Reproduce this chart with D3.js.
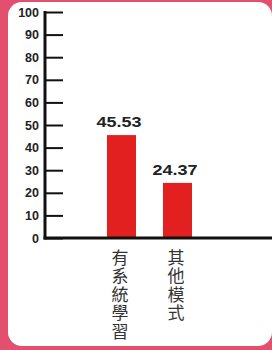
<!DOCTYPE html>
<html><head><meta charset="utf-8">
<script src="https://cdn.jsdelivr.net/npm/d3@7"></script>
<style>html,body{margin:0;padding:0;background:#e2506e;}svg{display:block;}</style>
</head><body>
<svg id="c" width="272" height="350"></svg>
<script>
const categories = ["有系統學習", "其他模式"];
const values = [45.53, 24.37];
const valueLabels = ["45.53", "24.37"];
const tickValues = [0, 10, 20, 30, 40, 50, 60, 70, 80, 90, 100];

const svg = d3.select("#c");
svg.append("rect").attr("x", 0).attr("y", 0).attr("width", 272).attr("height", 350).attr("fill", "#e2506e");
svg.append("rect").attr("x", 8).attr("y", 2).attr("width", 264).attr("height", 344).attr("rx", 14).attr("fill", "#ffffff");

const y = d3.scaleLinear().domain([0, 100]).range([238, 12]);
const x = d3.scaleBand().domain(categories).range([93.5, 205.5]).paddingInner(0.482).paddingOuter(0.241);

// bars
svg.selectAll(".bar").data(values).enter().append("rect")
  .attr("x", (d, i) => x(categories[i]))
  .attr("y", d => y(d))
  .attr("width", x.bandwidth())
  .attr("height", d => y(0) - y(d))
  .attr("fill", "#e2201f");

// value labels
svg.selectAll(".vl").data(values).enter().append("text")
  .attr("x", (d, i) => x(categories[i]) + x.bandwidth() / 2 - 2.5)
  .attr("y", d => y(d) - 8)
  .attr("text-anchor", "middle")
  .attr("font-family", "Liberation Sans, Arial, sans-serif")
  .attr("font-weight", "bold")
  .attr("font-size", 15.5)
  .attr("textLength", 45)
  .attr("lengthAdjust", "spacingAndGlyphs")
  .attr("fill", "#222")
  .text((d, i) => valueLabels[i]);

// y axis
const yAxis = d3.axisRight(y).tickValues(tickValues).tickSize(18).tickFormat("");
const ga = svg.append("g").attr("transform", "translate(45,0)").call(yAxis);
ga.select(".domain").remove();
ga.selectAll(".tick line").attr("stroke", "#111").attr("stroke-width", 2);
svg.append("line").attr("x1", 45).attr("x2", 45).attr("y1", y(100) - 1).attr("y2", y(0) + 1.5)
  .attr("stroke", "#111").attr("stroke-width", 3);
svg.selectAll(".tl").data(tickValues).enter().append("text")
  .attr("x", 39).attr("y", d => y(d) + 4.5)
  .attr("text-anchor", "end")
  .attr("font-family", "Liberation Sans, Arial, sans-serif")
  .attr("font-weight", "bold").attr("font-size", 12.5).attr("fill", "#222")
  .text(d => d);

// x axis line
svg.append("line").attr("x1", 43.5).attr("x2", 272).attr("y1", y(0)).attr("y2", y(0))
  .attr("stroke", "#111").attr("stroke-width", 3);

// category labels, vertical
svg.selectAll(".cl").data(categories).enter().append("text")
  .attr("x", d => x(d) + x.bandwidth() / 2 - 1.5)
  .attr("y", y(0) + 11)
  .attr("writing-mode", "vertical-rl")
  .attr("style", "writing-mode: vertical-rl; text-orientation: upright;")
  .attr("letter-spacing", 1.5)
  .attr("font-family", "Noto Sans CJK TC, sans-serif")
  .attr("font-size", 17).attr("fill", "#333")
  .text(d => d);
</script>
</body></html>
